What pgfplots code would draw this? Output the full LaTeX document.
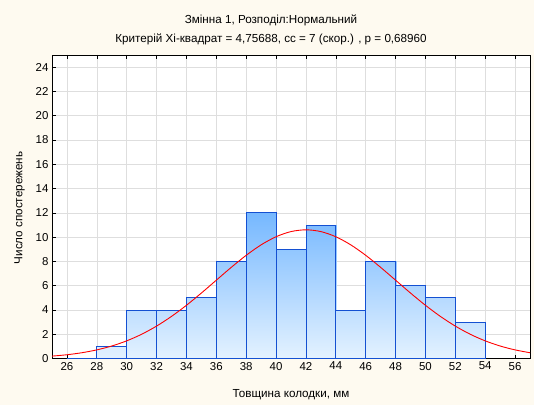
\documentclass[border=0pt]{standalone}
\usepackage{fontspec}
\setmainfont{Liberation Sans}
\usepackage{pgfplots}
\pgfplotsset{compat=1.18}
\definecolor{bgc}{RGB}{254,250,240}
\definecolor{edgeblue}{RGB}{20,80,210}
\pgfplotstableread{
x y
28 0
30 0
30 1
28 1
30 0
32 0
32 4
30 4
32 0
34 0
34 4
32 4
34 0
36 0
36 5
34 5
36 0
38 0
38 8
36 8
38 0
40 0
40 12
38 12
40 0
42 0
42 9
40 9
42 0
44 0
44 11
42 11
44 0
46 0
46 4
44 4
46 0
48 0
48 8
46 8
48 0
50 0
50 6
48 6
50 0
52 0
52 5
50 5
52 0
54 0
54 3
52 3
}\bars
\begin{document}
\begin{tikzpicture}[x=1bp,y=1bp]
\fill[bgc] (0,0) rectangle (534,405);
\begin{axis}[at={(52bp,46.5bp)}, anchor=south west, scale only axis,
  width=478bp, height=303.5bp,
  xmin=25, xmax=57, ymin=0, ymax=25,
  xtick={26,28,...,56}, ytick={0,2,...,24},
  axis background/.style={fill=white},
  grid=major, major grid style={draw=black!13, line width=0.6pt},
  tick align=inside, xtick pos=both, ytick pos=left, major tick length=4bp,
  tick style={black, line width=0.6pt},
  tick label style={font=\fontsize{11.5}{13}\selectfont},
  /pgf/number format/assume math mode=true,
  axis line style={line width=0.9pt},
  colormap={bl}{rgb255(0cm)=(228,242,255); rgb255(12cm)=(118,184,255)},
  point meta min=0, point meta max=12,
  ]
\addplot[patch, patch type=rectangle, shader=interp, point meta=y] table[x=x,y=y] {\bars};
\addplot[ybar interval, draw=edgeblue, fill=none, line width=0.8pt] coordinates {
(26,0) (28,1) (30,4) (32,4) (34,5) (36,8) (38,12) (40,9) (42,11) (44,4) (46,8) (48,6) (50,5) (52,3) (54,3)};
\addplot[red, line width=0.9pt, smooth, mark=none] coordinates {
(25,0.197) (26,0.310) (27,0.476) (28,0.710) (29,1.030) (30,1.454) (31,1.997) (32,2.669)
(33,3.468) (34,4.384) (35,5.392) (36,6.452) (37,7.508) (38,8.501) (39,9.363) (40,10.03)
(41,10.455) (42,10.6) (43,10.455) (44,10.03) (45,9.363) (46,8.501) (47,7.508) (48,6.452)
(49,5.392) (50,4.384) (51,3.468) (52,2.669) (53,1.997) (54,1.454) (55,1.030) (56,0.710) (57,0.476)};
\end{axis}
\node[font=\fontsize{11.7}{13}\selectfont] at (271,385) {Змінна 1, Розподіл:Нормальний};
\node[font=\fontsize{11.7}{13}\selectfont] at (271,366) {Критерій Хі-квадрат = 4,75688, сс = 7 (скор.) , p = 0,68960};
\node[font=\fontsize{11.7}{13}\selectfont] at (291,10) {Товщина колодки, мм};
\node[font=\fontsize{11.7}{13}\selectfont, rotate=90] at (19.5,197) {Число спостережень};
\end{tikzpicture}
\end{document}
